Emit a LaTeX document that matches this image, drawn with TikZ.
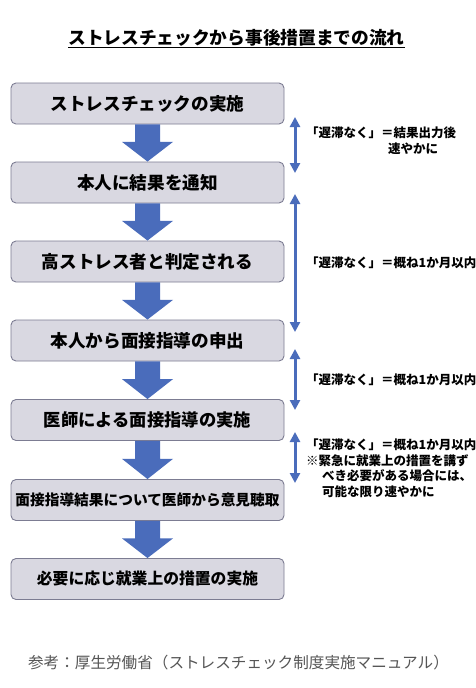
\documentclass[tikz,border=0pt]{standalone}
\usepackage{fontspec}
\setmainfont{Noto Sans CJK JP}
\usetikzlibrary{arrows.meta,calc}
\definecolor{boxfill}{HTML}{D9D8E1}
\definecolor{boxline}{HTML}{7C7C92}
\definecolor{arrowblue}{HTML}{4A6CBB}
\definecolor{foot}{HTML}{555555}
\tikzset{
  stepbox/.style={draw=boxline, fill=boxfill, line width=0.9pt, rounded corners=5pt,
    minimum width=273pt, minimum height=41pt, inner sep=0pt,
    font=\fontsize{17.6}{21}\selectfont\bfseries},
  blockarr/.style={fill=arrowblue},
  dblarr/.style={draw=arrowblue, line width=3pt, {Triangle[width=10pt,length=10pt]}-{Triangle[width=10pt,length=10pt]}},
  note/.style={anchor=west, inner sep=0pt, align=left, font=\fontsize{12.5}{15.5}\selectfont\bfseries}
}
\newcommand\blockarrow[2]{%
  \fill[blockarr] ($(#1.south)+(-12.5,0)$) -- ($(#1.south)+(12.5,0)$)
    -- ($(#1.south)!0.47!(#2.north)+(12.5,0)$) -- ($(#1.south)!0.47!(#2.north)+(25.5,0)$)
    -- (#2.north)
    -- ($(#1.south)!0.47!(#2.north)+(-25.5,0)$) -- ($(#1.south)!0.47!(#2.north)+(-12.5,0)$)
    -- cycle;}
\begin{document}
\begin{tikzpicture}[x=1pt,y=-1pt]
\useasboundingbox[fill=white] (0,0) rectangle (476,688);

\node[inner sep=0pt, font=\fontsize{17.7}{21}\selectfont\bfseries] (title) at (236.5,38) {ストレスチェックから事後措置までの流れ};
\draw[line width=1pt] ([yshift=-3pt]title.base west) -- ([yshift=-3pt]title.base east);

\node[stepbox] (b1) at (147.5,103.5) {ストレスチェックの実施};
\node[stepbox] (b2) at (147.5,182.5) {本人に結果を通知};
\node[stepbox] (b3) at (147.5,261.5) {高ストレス者と判定される};
\node[stepbox] (b4) at (147.5,340.5) {本人から面接指導の申出};
\node[stepbox, font=\fontsize{17.3}{21}\selectfont\bfseries] (b5) at (147.5,420) {医師による面接指導の実施};
\node[stepbox, font=\fontsize{14.7}{18}\selectfont\bfseries] (b6) at (147.5,500) {面接指導結果について医師から意見聴取};
\node[stepbox, font=\fontsize{15.8}{19}\selectfont\bfseries] (b7) at (147.5,579) {必要に応じ就業上の措置の実施};

\blockarrow{b1}{b2}
\blockarrow{b2}{b3}
\blockarrow{b3}{b4}
\blockarrow{b4}{b5}
\blockarrow{b5}{b6}
\blockarrow{b6}{b7}

\coordinate (a1s) at (295,117);
\coordinate (a1e) at (295,173);
\coordinate (a2s) at (295,194);
\coordinate (a2e) at (295,332);
\coordinate (a3s) at (295,349);
\coordinate (a3e) at (295,410);
\coordinate (a4s) at (295,432);
\coordinate (a4e) at (295,483);
\draw[dblarr] (a1s) -- (a1e);
\draw[dblarr] (a2s) -- (a2e);
\draw[dblarr] (a3s) -- (a3e);
\draw[dblarr] (a4s) -- (a4e);

\node[note, anchor=north west] (n1) at (306,127) {「遅滞なく」＝結果出力後\\\hspace*{82pt}速やかに};
\node[note] (n2) at (306,263) {「遅滞なく」＝概ね1か月以内};
\node[note] (n3) at (306,380) {「遅滞なく」＝概ね1か月以内};
\node[note, anchor=north west] (n4) at (306,439) {「遅滞なく」＝概ね1か月以内\\※緊急に就業上の措置を講ず\\\hspace*{16pt}べき必要がある場合には、\\\hspace*{16pt}可能な限り速やかに};

\node[inner sep=0pt, text=foot, font=\fontsize{15.6}{18}\selectfont] (foot) at (238.5,663) {参考：厚生労働省（ストレスチェック制度実施マニュアル）};
\end{tikzpicture}
\end{document}
